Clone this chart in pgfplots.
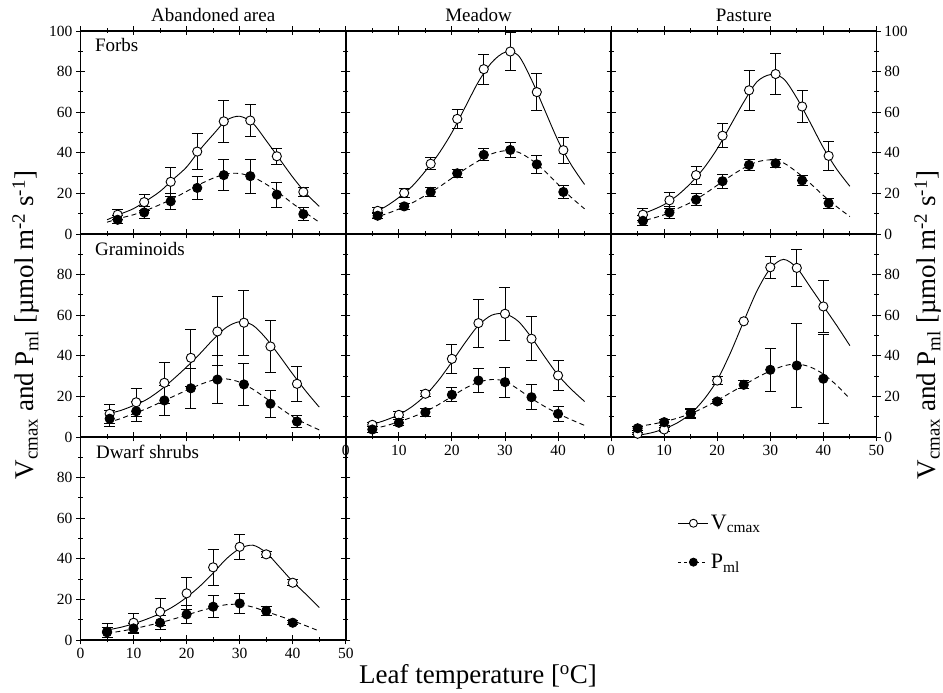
\documentclass[border=0pt]{standalone}
\usepackage{fontspec}
\setmainfont{Liberation Serif}
\usepackage{pgfplots}
\pgfplotsset{compat=1.18}

\newcommand\tickfont{\fontsize{15.5}{16}\selectfont}
\newcommand\headfont{\fontsize{19}{20}\selectfont}
\newcommand\labfont{\fontsize{27}{28}\selectfont}

\pgfplotsset{
  panel/.style={
    scale only axis, width=265.3pt, height=203pt, anchor=south west,
    xmin=0, xmax=50, ymin=0, ymax=100,
    xtick={0,10,...,50}, ytick={0,20,...,100},
    minor x tick num=1, minor y tick num=1,
    tick align=center, xtick pos=both, ytick pos=both,
    major tick length=9pt, minor tick length=5pt,
    axis line style={line width=1.7pt},
    tick style={black, line width=0.9pt},
    ticklabel style={font=\tickfont},
    xticklabels={}, yticklabels={},
  },
  vcurve/.style={black, line width=0.9pt, smooth, no markers, forget plot},
  pcurve/.style={black, line width=0.9pt, smooth, no markers, forget plot,
    dash pattern=on 5pt off 3.5pt},
  vpts/.style={only marks, forget plot, mark=*, mark size=4.6pt,
    mark options={fill=white, draw=black, line width=0.9pt, solid},
    error bars/.cd, y dir=both, y explicit,
    error bar style={line width=0.9pt, black, solid},
    error mark options={rotate=90, mark size=5.5pt, line width=0.9pt, black}},
  ppts/.style={only marks, forget plot, mark=*, mark size=4.6pt,
    mark options={fill=black, draw=black, line width=0.9pt, solid},
    error bars/.cd, y dir=both, y explicit,
    error bar style={line width=0.9pt, black, solid},
    error mark options={rotate=90, mark size=5.5pt, line width=0.9pt, black}},
}

\begin{document}
\begin{tikzpicture}[x=1pt, y=1pt]
\useasboundingbox (0,0) rectangle (943,693);

% ---- row 1: Forbs ----
\begin{axis}[panel, at={(80.5pt,459pt)},
  yticklabel pos=left, yticklabels={0,20,40,60,80,100}]
\addplot[vcurve] coordinates {(5,7) (7.5,9.8) (10,12.5) (12.5,16.5) (15,21)
  (17.5,27) (20,33) (22.5,41.5) (25,49) (27.5,56) (30,58) (32.5,54.5) (35,46)
  (37.5,37) (40,28) (42.5,20) (45,13.6)};
\addplot[pcurve] coordinates {(5,5.8) (7.5,7.8) (10,9.5) (12.5,11.8) (15,14.5)
  (17.5,17.5) (20,21) (22.5,24.5) (25,27.5) (27.5,29.6) (30,29.8) (32.5,28)
  (35,24.5) (37.5,20) (40,15) (42.5,10.3) (45,5.8)};
\addplot[vpts] coordinates {(7,9.5) +- (0,2.5) (12,15.7) +- (0,4)
  (17,25.7) +- (0,7) (22,40.6) +- (0,9) (27,55.5) +- (0,10.5)
  (32,55.9) +- (0,8) (37,38.3) +- (0,4) (42,20.7) +- (0,2)};
\addplot[ppts] coordinates {(7,7) +- (0,2) (12,10.6) +- (0,3)
  (17,16.1) +- (0,4) (22,22.7) +- (0,5.8) (27,29) +- (0,7.5)
  (32,28.5) +- (0,8.3) (37,19.4) +- (0,6.2) (42,9.8) +- (0,3.3)};
\end{axis}

\begin{axis}[panel, at={(345.8pt,459pt)}]
\addplot[vcurve] coordinates {(5,10.5) (7.5,13.5) (10,18) (12.5,23.5) (15,31)
  (17.5,39.5) (20,50) (22.5,62.5) (25,75) (27.5,84.5) (30,89.5) (32.5,88)
  (35,76) (37.5,61) (40,46) (42.5,34) (45,24.4)};
\addplot[pcurve] coordinates {(5,7.8) (7.5,9.8) (10,12.3) (12.5,15.3) (15,19)
  (17.5,23) (20,27.5) (22.5,32) (25,36) (27.5,39.5) (30,41) (32.5,40.3)
  (35,36.5) (37.5,31) (40,24.5) (42.5,18) (45,12.4)};
\addplot[vpts] coordinates {(6,11.4) +- (0,1.5) (11,20.2) +- (0,2)
  (16,34.6) +- (0,3) (21,56.7) +- (0,4.6) (26,81.2) +- (0,7.3)
  (31,89.9) +- (0,9.5) (36,69.9) +- (0,9.2) (41,41.3) +- (0,6.5)};
\addplot[ppts] coordinates {(6,9) +- (0,1.5) (11,13.6) +- (0,1.5)
  (16,20.7) +- (0,2) (21,29.9) +- (0,2) (26,39) +- (0,3)
  (31,41.4) +- (0,3.5) (36,34.3) +- (0,4.4) (41,20.7) +- (0,3.4)};
\end{axis}

\begin{axis}[panel, at={(611.1pt,459pt)},
  yticklabel pos=right, yticklabels={0,20,40,60,80,100}]
\addplot[vcurve] coordinates {(5,9) (7.5,11.5) (10,14.5) (12.5,19) (15,25)
  (17.5,32.5) (20,42) (22.5,53.5) (25,65) (27.5,75) (30,78.5) (32.5,76.5)
  (35,67) (37.5,55) (40,42.5) (42.5,32) (45,23.5)};
\addplot[pcurve] coordinates {(5,5.8) (7.5,7.5) (10,9.5) (12.5,12.5) (15,15.5)
  (17.5,19.5) (20,24) (22.5,28.5) (25,32.5) (27.5,35.5) (30,36.5) (32.5,35)
  (35,30.5) (37.5,25) (40,19) (42.5,13.5) (45,8.6)};
\addplot[vpts] coordinates {(6,9.5) +- (0,3) (11,16.6) +- (0,4)
  (16,29) +- (0,4.5) (21,48.4) +- (0,6) (26,70.8) +- (0,9.8)
  (31,78.8) +- (0,10) (36,62.8) +- (0,7.8) (41,38.5) +- (0,7)};
\addplot[ppts] coordinates {(6,6.5) +- (0,2.5) (11,10.6) +- (0,3)
  (16,16.9) +- (0,3) (21,26) +- (0,3.5) (26,34) +- (0,2.5)
  (31,34.8) +- (0,2) (36,26.4) +- (0,2.5) (41,15.2) +- (0,2.5)};
\end{axis}

% ---- row 2: Graminoids ----
\begin{axis}[panel, at={(80.5pt,256pt)},
  yticklabel pos=left, yticklabels={0,20,40,60,80,{}}]
\addplot[vcurve] coordinates {(5,11.4) (7.5,13) (10,15.5) (12.5,18.5) (15,23)
  (17.5,28.5) (20,34.5) (22.5,41) (25,48) (27.5,54) (30,56.8) (32.5,55)
  (35,48.5) (37.5,40) (40,31) (42.5,22.5) (45,14.7)};
\addplot[pcurve] coordinates {(5,7) (7.5,9) (10,11.5) (12.5,14) (15,17)
  (17.5,20) (20,23) (22.5,25.8) (25,28) (27.5,28.6) (30,27) (32.5,23.5)
  (35,19) (37.5,14.5) (40,10) (42.5,6.5) (45,3.5)};
\addplot[vpts] coordinates {(5.5,11.4) +- (0,4.5) (10.5,17.1) +- (0,7)
  (15.8,26.7) +- (0,10) (20.8,39) +- (0,14) (25.8,52) +- (0,17)
  (30.8,56.3) +- (0,16) (35.8,44.6) +- (0,13) (40.8,26.2) +- (0,8.5)};
\addplot[ppts] coordinates {(5.5,9) +- (0,4) (10.5,12.7) +- (0,5)
  (15.8,18) +- (0,7.5) (20.8,24) +- (0,10) (25.8,28.3) +- (0,11.7)
  (30.8,25.9) +- (0,10.5) (35.8,16.4) +- (0,6.7) (40.8,7.6) +- (0,3)};
\end{axis}

\begin{axis}[panel, at={(345.8pt,256pt)},
  xticklabels={0,10,20,30,40,{}}]
\addplot[vcurve] coordinates {(5,6.2) (7.5,8.3) (10,11) (12.5,15) (15,20.5)
  (17.5,28) (20,37) (22.5,46.5) (25,55) (27.5,60) (30,60.7) (32.5,57)
  (35,49) (37.5,39.5) (40,30.5) (42.5,23.5) (45,17.5)};
\addplot[pcurve] coordinates {(5,4) (7.5,5.5) (10,7.5) (12.5,9.8) (15,12.5)
  (17.5,16) (20,20) (22.5,24) (25,27) (27.5,28.3) (30,27.5) (32.5,23.5)
  (35,19) (37.5,15) (40,11.5) (42.5,8.5) (45,5.7)};
\addplot[vpts] coordinates {(5,6) +- (0,1) (10,10.9) +- (0,1.5)
  (15,21.3) +- (0,1.5) (20,38.5) +- (0,7.2) (25,56.1) +- (0,11.8)
  (30,60.7) +- (0,13) (35,48.4) +- (0,10.8) (40,30.3) +- (0,7.2)};
\addplot[ppts] coordinates {(5,3.7) +- (0,1.5) (10,7) +- (0,1.5)
  (15,12.2) +- (0,2) (20,20.8) +- (0,3.5) (25,27.8) +- (0,5.8)
  (30,27) +- (0,7.4) (35,19.6) +- (0,6.1) (40,11.4) +- (0,3.5)};
\end{axis}

\begin{axis}[panel, at={(611.1pt,256pt)},
  xticklabels={0,10,20,30,40,50},
  yticklabel pos=right, yticklabels={0,20,40,60,80,{}}]
\addplot[vcurve] coordinates {(5,0.8) (7.5,2) (10,4) (12.5,7) (15,11.5)
  (17.5,18.5) (20,28) (22.5,41.5) (25,57) (27.5,72) (30,83) (32.5,87.5)
  (35,83.3) (37.5,74) (40,64.5) (42.5,55) (45,45)};
\addplot[pcurve] coordinates {(5,5.2) (7.5,6.2) (10,7.5) (12.5,9.3) (15,11.5)
  (17.5,14.5) (20,18) (22.5,21.8) (25,25.5) (27.5,29.3) (30,32.5) (32.5,35)
  (35,36) (37.5,34.5) (40,31) (42.5,25.5) (45,18.8)};
\addplot[vpts] coordinates {(5,1.6) +- (0,0.5) (10,3.7) +- (0,1)
  (15,11.7) +- (0,2.5) (20,27.8) +- (0,2) (25,57) +- (0,0)
  (30,83.6) +- (0,5.3) (35,83.3) +- (0,9.2) (40,64.3) +- (0,13)};
\addplot[ppts] coordinates {(5,4.3) +- (0,1) (10,7.3) +- (0,1.5)
  (15,11.7) +- (0,2) (20,17.5) +- (0,1) (25,25.7) +- (0,2)
  (30,33.1) +- (0,10.7) (35,35.2) +- (0,20.7) (40,28.7) +- (0,22)};
\end{axis}

% ---- row 3: Dwarf shrubs ----
\begin{axis}[panel, at={(80.5pt,53pt)},
  xticklabels={0,10,20,30,40,50},
  yticklabel pos=left, yticklabels={0,20,40,60,80,{}},
  legend style={at={(2.24,0.635)}, anchor=north west, draw=none, fill=none,
    font=\fontsize{22}{24}\selectfont, row sep=19pt, cells={anchor=west}},
  legend image code/.code={\draw[mark repeat=2, mark phase=2, #1]
    plot coordinates {(0pt,0pt) (15pt,0pt) (30pt,0pt)};}]
\addlegendimage{black, line width=0.9pt, mark=*, mark size=4pt,
  mark options={solid, fill=white}}
\addlegendentry{V\textsubscript{cmax}}
\addlegendimage{black, line width=0.9pt, dash pattern=on 3pt off 3pt, mark=*,
  mark size=4pt, mark options={solid, fill=black}}
\addlegendentry{P\textsubscript{ml}}
\addplot[vcurve] coordinates {(5,4.9) (7.5,6.2) (10,8) (12.5,10.3) (15,13)
  (17.5,16.5) (20,21) (22.5,26.5) (25,33) (27.5,40) (30,45) (32.5,46.7)
  (35,43) (37.5,36) (40,28.8) (42.5,22.5) (45,16)};
\addplot[pcurve] coordinates {(5,3.3) (7.5,4.3) (10,5.5) (12.5,7) (15,8.5)
  (17.5,10.3) (20,12.3) (22.5,14.3) (25,16) (27.5,17.4) (30,17.5) (32.5,16.2)
  (35,14) (37.5,11.8) (40,9.5) (42.5,7) (45,4.4)};
\addplot[vpts] coordinates {(5,4.1) +- (0,4) (10,8.5) +- (0,4.6)
  (15,13.9) +- (0,6.6) (20,23) +- (0,8) (25,35.8) +- (0,8.8)
  (30,45.9) +- (0,6.2) (35,42.2) +- (0,1.5) (40,28.2) +- (0,1.5)};
\addplot[ppts] coordinates {(5,3.8) +- (0,2.5) (10,5.7) +- (0,2.5)
  (15,8.5) +- (0,3.5) (20,12.6) +- (0,4.5) (25,16.4) +- (0,5.3)
  (30,18) +- (0,4.8) (35,14.3) +- (0,2) (40,8.5) +- (0,1)};
\end{axis}

% ---- text around the panels ----
\node[anchor=base, font=\headfont] at (213.2,671.3) {Abandoned area};
\node[anchor=base, font=\headfont] at (478.5,671.3) {Meadow};
\node[anchor=base, font=\headfont] at (743.8,671.3) {Pasture};
\node[anchor=base west, font=\headfont] at (91.5,641) {Forbs};
\node[anchor=base west, font=\headfont] at (91.5,437) {Graminoids};
\node[anchor=base west, font=\headfont] at (92.5,234.5) {Dwarf shrubs};
\node[anchor=base, font=\labfont] at (478,9) {Leaf temperature [\textsuperscript{o}C]};
\node[rotate=90, anchor=west, font=\labfont] at (26,210)
  {V\textsubscript{cmax} and P\textsubscript{ml} [µmol m\textsuperscript{-2} s\textsuperscript{-1}]};
\node[rotate=90, anchor=west, font=\labfont] at (928,210)
  {V\textsubscript{cmax} and P\textsubscript{ml} [µmol m\textsuperscript{-2} s\textsuperscript{-1}]};
\end{tikzpicture}
\end{document}
